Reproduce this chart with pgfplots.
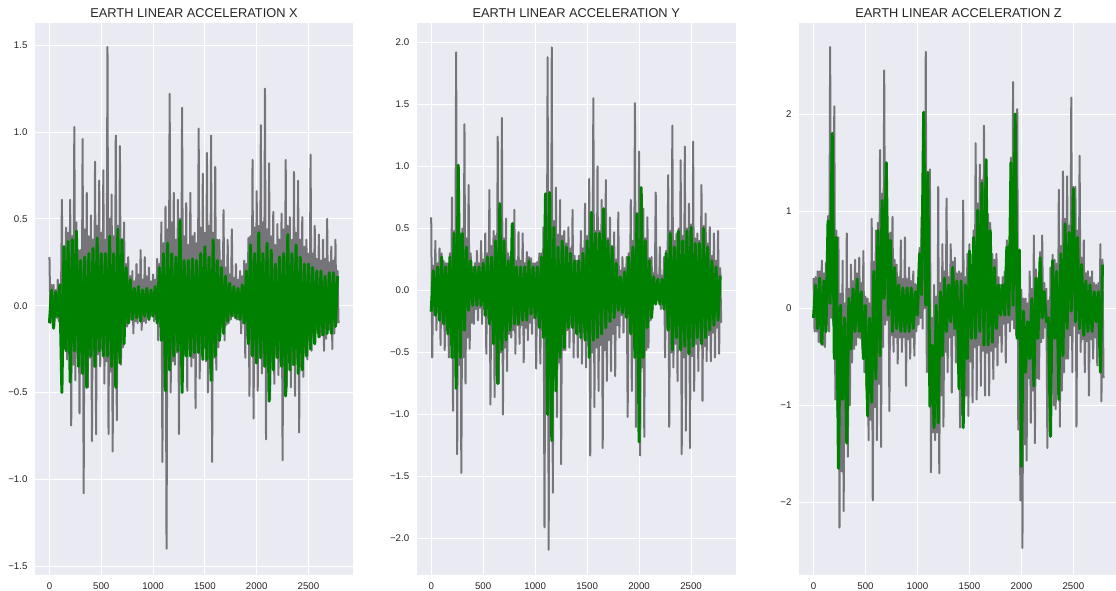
\documentclass[border=0pt]{standalone}
\usepackage{pgfplots}
\usepackage{pgfplotstable}
\pgfplotsset{compat=1.18}
\usepackage{fontspec}
\setmainfont{Liberation Sans}

\definecolor{sbbg}{RGB}{234,234,242}
\definecolor{sbtext}{RGB}{38,38,38}
\definecolor{rawgray}{RGB}{117,117,121}
\definecolor{filtgreen}{RGB}{0,128,0}

% raw = gray trace, filt = green trace (nan = no filtered sample at that row)
\pgfplotstableread[row sep=\\]{
x raw filt\\
0 0.28 -0.10\\ 10 -0.10 nan\\ 20 0.12 0.09\\ 30 -0.06 nan\\
40 0.12 -0.13\\ 50 -0.07 nan\\ 60 0.09 0.08\\ 70 -0.07 nan\\
80 0.15 -0.06\\ 90 -0.09 nan\\ 100 0.12 0.12\\ 110 -0.06 nan\\
120 0.61 -0.50\\ 130 -0.26 nan\\ 140 0.34 0.34\\ 150 -0.24 nan\\
160 0.45 -0.26\\ 170 -0.31 nan\\ 180 0.42 0.37\\ 190 -0.28 nan\\
200 0.61 -0.44\\ 210 -0.69 nan\\ 220 0.40 0.38\\ 230 -0.34 nan\\
240 1.03 -0.26\\ 250 -0.43 nan\\ 260 0.48 0.43\\ 270 -0.27 nan\\
280 0.32 -0.35\\ 290 -0.62 nan\\ 300 0.32 0.26\\ 310 -0.36 nan\\
320 0.96 -0.39\\ 330 -1.08 nan\\ 340 0.44 0.28\\ 350 -0.32 nan\\
360 0.65 -0.47\\ 370 -0.47 nan\\ 380 0.40 0.30\\ 390 -0.30 nan\\
400 0.52 -0.29\\ 410 -0.78 nan\\ 420 0.38 0.33\\ 430 -0.35 nan\\
440 0.83 -0.35\\ 450 -0.74 nan\\ 460 0.46 0.39\\ 470 -0.28 nan\\
480 0.72 -0.26\\ 490 -0.35 nan\\ 500 0.42 0.30\\ 510 -0.25 nan\\
520 0.78 -0.29\\ 530 -0.45 nan\\ 540 0.38 0.30\\ 550 -0.32 nan\\
560 1.49 -0.29\\ 570 -0.74 nan\\ 580 0.50 0.40\\ 590 -0.38 nan\\
600 0.64 -0.35\\ 610 -0.84 nan\\ 620 0.40 0.30\\ 630 -0.34 nan\\
640 0.98 -0.47\\ 650 -0.66 nan\\ 660 0.46 0.44\\ 670 -0.30 nan\\
680 0.92 -0.33\\ 690 -0.34 nan\\ 700 0.38 0.38\\ 710 -0.24 nan\\
720 0.48 -0.22\\ 730 -0.12 nan\\ 740 0.24 0.22\\ 750 -0.12 nan\\
760 0.28 -0.10\\ 770 -0.10 nan\\ 780 0.17 0.15\\ 790 -0.08 nan\\
800 0.20 -0.08\\ 810 -0.16 nan\\ 820 0.14 0.10\\ 830 -0.09 nan\\
840 0.24 -0.07\\ 850 -0.10 nan\\ 860 0.18 0.11\\ 870 -0.07 nan\\
880 0.32 -0.09\\ 890 -0.14 nan\\ 900 0.15 0.09\\ 910 -0.09 nan\\
920 0.28 -0.06\\ 930 -0.10 nan\\ 940 0.17 0.10\\ 950 -0.07 nan\\
960 0.22 -0.08\\ 970 -0.06 nan\\ 980 0.14 0.09\\ 990 -0.06 nan\\
1000 0.18 -0.06\\ 1010 -0.09 nan\\ 1020 0.15 0.11\\ 1030 -0.08 nan\\
1040 0.27 -0.10\\ 1050 -0.20 nan\\ 1060 0.24 0.22\\ 1070 -0.12 nan\\
1080 0.48 -0.20\\ 1090 -0.90 nan\\ 1100 0.36 0.30\\ 1110 -0.30 nan\\
1120 0.57 -0.49\\ 1130 -1.40 nan\\ 1140 0.44 0.36\\ 1150 -0.36 nan\\
1160 1.22 -0.37\\ 1170 -0.50 nan\\ 1180 0.48 0.30\\ 1190 -0.32 nan\\
1200 0.65 -0.29\\ 1210 -0.34 nan\\ 1220 0.38 0.28\\ 1230 -0.27 nan\\
1240 0.61 -0.26\\ 1250 -0.74 nan\\ 1260 0.50 0.49\\ 1270 -0.35 nan\\
1280 1.14 -0.50\\ 1290 -0.31 nan\\ 1300 0.40 0.26\\ 1310 -0.28 nan\\
1320 0.59 -0.29\\ 1330 -0.49 nan\\ 1340 0.35 0.26\\ 1350 -0.25 nan\\
1360 0.65 -0.29\\ 1370 -0.35 nan\\ 1380 0.40 0.27\\ 1390 -0.30 nan\\
1400 0.42 -0.27\\ 1410 -0.59 nan\\ 1420 0.36 0.26\\ 1430 -0.27 nan\\
1440 1.02 -0.27\\ 1450 -0.42 nan\\ 1460 0.45 0.30\\ 1470 -0.28 nan\\
1480 0.76 -0.31\\ 1490 -0.24 nan\\ 1500 0.42 0.34\\ 1510 -0.32 nan\\
1520 0.88 -0.31\\ 1530 -0.50 nan\\ 1540 0.46 0.28\\ 1550 -0.36 nan\\
1560 0.98 -0.43\\ 1570 -0.90 nan\\ 1580 0.42 0.38\\ 1590 -0.30 nan\\
1600 0.80 -0.29\\ 1610 -0.37 nan\\ 1620 0.38 0.26\\ 1630 -0.24 nan\\
1640 0.38 -0.20\\ 1650 -0.18 nan\\ 1660 0.26 0.22\\ 1670 -0.12 nan\\
1680 0.55 -0.16\\ 1690 -0.20 nan\\ 1700 0.22 0.17\\ 1710 -0.11 nan\\
1720 0.38 -0.09\\ 1730 -0.10 nan\\ 1740 0.18 0.13\\ 1750 -0.08 nan\\
1760 0.44 -0.06\\ 1770 -0.06 nan\\ 1780 0.16 0.11\\ 1790 -0.07 nan\\
1800 0.24 -0.07\\ 1810 -0.08 nan\\ 1820 0.15 0.10\\ 1830 -0.08 nan\\
1840 0.20 -0.08\\ 1850 -0.16 nan\\ 1860 0.17 0.12\\ 1870 -0.10 nan\\
1880 0.26 -0.10\\ 1890 -0.30 nan\\ 1900 0.24 0.20\\ 1910 -0.17 nan\\
1920 0.39 -0.22\\ 1930 -0.52 nan\\ 1940 0.40 0.35\\ 1950 -0.28 nan\\
1960 0.84 -0.29\\ 1970 -0.65 nan\\ 1980 0.45 0.30\\ 1990 -0.33 nan\\
2000 0.66 -0.33\\ 2010 -0.49 nan\\ 2020 0.46 0.42\\ 2030 -0.30 nan\\
2040 1.04 -0.30\\ 2050 -0.39 nan\\ 2060 0.48 0.30\\ 2070 -0.35 nan\\
2080 1.25 -0.35\\ 2090 -0.77 nan\\ 2100 0.44 0.36\\ 2110 -0.37 nan\\
2120 0.82 -0.55\\ 2130 -0.54 nan\\ 2140 0.40 0.32\\ 2150 -0.32 nan\\
2160 0.54 -0.37\\ 2170 -0.45 nan\\ 2180 0.35 0.24\\ 2190 -0.28 nan\\
2200 0.47 -0.30\\ 2210 -0.40 nan\\ 2220 0.38 0.28\\ 2230 -0.32 nan\\
2240 0.53 -0.35\\ 2250 -0.89 nan\\ 2260 0.44 0.30\\ 2270 -0.36 nan\\
2280 0.84 -0.52\\ 2290 -0.47 nan\\ 2300 0.46 0.41\\ 2310 -0.32 nan\\
2320 0.51 -0.37\\ 2330 -0.47 nan\\ 2340 0.38 0.30\\ 2350 -0.34 nan\\
2360 0.77 -0.34\\ 2370 -0.52 nan\\ 2380 0.42 0.35\\ 2390 -0.30 nan\\
2400 0.72 -0.39\\ 2410 -0.73 nan\\ 2420 0.38 0.28\\ 2430 -0.35 nan\\
2440 0.51 -0.37\\ 2450 -0.41 nan\\ 2460 0.34 0.24\\ 2470 -0.27 nan\\
2480 0.38 -0.29\\ 2490 -0.31 nan\\ 2500 0.30 0.24\\ 2510 -0.20 nan\\
2520 0.87 -0.25\\ 2530 -0.26 nan\\ 2540 0.30 0.22\\ 2550 -0.17 nan\\
2560 0.46 -0.22\\ 2570 -0.14 nan\\ 2580 0.27 0.20\\ 2590 -0.16 nan\\
2600 0.41 -0.18\\ 2610 -0.18 nan\\ 2620 0.26 0.20\\ 2630 -0.17 nan\\
2640 0.38 -0.17\\ 2650 -0.26 nan\\ 2660 0.27 0.17\\ 2670 -0.19 nan\\
2680 0.50 -0.16\\ 2690 -0.12 nan\\ 2700 0.25 0.19\\ 2710 -0.14 nan\\
2720 0.34 -0.16\\ 2730 -0.25 nan\\ 2740 0.26 0.19\\ 2750 -0.16 nan\\
2760 0.38 -0.12\\ 2770 -0.10 nan\\ 2780 0.20 0.17\\ 2790 -0.10 nan\\
}\accx

\pgfplotstableread[row sep=\\]{
x raw filt\\
0 0.59 -0.17\\ 10 -0.54 nan\\ 20 0.20 0.16\\ 30 -0.20 nan\\
40 0.40 -0.20\\ 50 -0.32 nan\\ 60 0.22 0.19\\ 70 -0.18 nan\\
80 0.34 -0.24\\ 90 -0.44 nan\\ 100 0.30 0.27\\ 110 -0.24 nan\\
120 0.24 -0.27\\ 130 -0.48 nan\\ 140 0.22 0.19\\ 150 -0.26 nan\\
160 0.22 -0.35\\ 170 -0.54 nan\\ 180 0.30 0.27\\ 190 -0.30 nan\\
200 0.75 -0.54\\ 210 -0.97 nan\\ 220 0.48 0.46\\ 230 -0.50 nan\\
240 1.92 -0.79\\ 250 -1.32 nan\\ 260 0.55 1.01\\ 270 -0.60 nan\\
280 0.46 -0.54\\ 290 -1.47 nan\\ 300 0.50 0.46\\ 310 -0.54 nan\\
320 1.34 -0.32\\ 330 -0.75 nan\\ 340 0.42 0.35\\ 350 -0.38 nan\\
360 0.85 -0.16\\ 370 -0.47 nan\\ 380 0.30 0.24\\ 390 -0.26 nan\\
400 0.19 -0.12\\ 410 -0.27 nan\\ 420 0.22 0.19\\ 430 -0.15 nan\\
440 0.32 -0.12\\ 450 -0.24 nan\\ 460 0.22 0.19\\ 470 -0.14 nan\\
480 0.40 -0.12\\ 490 -0.27 nan\\ 500 0.25 0.22\\ 510 -0.15 nan\\
520 0.46 -0.20\\ 530 -0.51 nan\\ 540 0.30 0.27\\ 550 -0.22 nan\\
560 0.81 -0.27\\ 570 -0.92 nan\\ 580 0.36 0.27\\ 590 -0.36 nan\\
600 0.48 -0.43\\ 610 -0.86 nan\\ 620 0.44 0.40\\ 630 -0.44 nan\\
640 1.24 -0.75\\ 650 -0.75 nan\\ 660 0.50 0.70\\ 670 -0.50 nan\\
680 1.39 -0.48\\ 690 -1.00 nan\\ 700 0.42 0.40\\ 710 -0.46 nan\\
720 0.58 -0.40\\ 730 -0.65 nan\\ 740 0.30 0.24\\ 750 -0.35 nan\\
760 0.27 -0.32\\ 770 -0.38 nan\\ 780 0.30 0.54\\ 790 -0.32 nan\\
800 0.65 -0.27\\ 810 -0.51 nan\\ 820 0.24 0.19\\ 830 -0.28 nan\\
840 0.47 -0.27\\ 850 -0.43 nan\\ 860 0.24 0.19\\ 870 -0.28 nan\\
880 0.46 -0.24\\ 890 -0.58 nan\\ 900 0.22 0.19\\ 910 -0.30 nan\\
920 0.31 -0.24\\ 930 -0.40 nan\\ 940 0.27 0.24\\ 950 -0.26 nan\\
960 0.26 -0.19\\ 970 -0.35 nan\\ 980 0.22 0.19\\ 990 -0.22 nan\\
1000 0.22 -0.22\\ 1010 -0.63 nan\\ 1020 0.23 0.19\\ 1030 -0.28 nan\\
1040 0.30 -0.30\\ 1050 -0.59 nan\\ 1060 0.30 0.27\\ 1070 -0.32 nan\\
1080 0.51 -0.38\\ 1090 -1.91 nan\\ 1100 0.62 0.78\\ 1110 -0.75 nan\\
1120 1.88 -1.00\\ 1130 -2.09 nan\\ 1140 0.65 0.79\\ 1150 -0.90 nan\\
1160 1.96 -1.21\\ 1170 -1.63 nan\\ 1180 0.56 0.51\\ 1190 -0.72 nan\\
1200 0.83 -0.81\\ 1210 -1.02 nan\\ 1220 0.45 0.35\\ 1230 -0.58 nan\\
1240 0.73 -0.54\\ 1250 -1.40 nan\\ 1260 0.44 0.40\\ 1270 -0.48 nan\\
1280 0.48 -0.46\\ 1290 -0.48 nan\\ 1300 0.38 0.35\\ 1310 -0.32 nan\\
1320 0.51 -0.30\\ 1330 -0.46 nan\\ 1340 0.34 0.30\\ 1350 -0.28 nan\\
1360 0.65 -0.30\\ 1370 -0.54 nan\\ 1380 0.28 0.24\\ 1390 -0.28 nan\\
1400 0.24 -0.35\\ 1410 -0.54 nan\\ 1420 0.28 0.24\\ 1430 -0.30 nan\\
1440 0.48 -0.38\\ 1450 -0.59 nan\\ 1460 0.34 0.30\\ 1470 -0.34 nan\\
1480 0.70 -0.40\\ 1490 -0.62 nan\\ 1500 0.44 0.40\\ 1510 -0.40 nan\\
1520 0.90 -0.54\\ 1530 -1.33 nan\\ 1540 0.52 0.63\\ 1550 -0.50 nan\\
1560 1.55 -0.40\\ 1570 -0.94 nan\\ 1580 0.48 0.46\\ 1590 -0.46 nan\\
1600 1.00 -0.38\\ 1610 -0.81 nan\\ 1620 0.48 0.46\\ 1630 -0.44 nan\\
1640 0.73 -0.35\\ 1650 -1.27 nan\\ 1660 0.50 0.66\\ 1670 -0.48 nan\\
1680 0.89 -0.30\\ 1690 -0.73 nan\\ 1700 0.42 0.40\\ 1710 -0.40 nan\\
1720 0.59 -0.25\\ 1730 -0.65 nan\\ 1740 0.36 0.35\\ 1750 -0.35 nan\\
1760 0.47 -0.22\\ 1770 -0.69 nan\\ 1780 0.25 0.22\\ 1790 -0.28 nan\\
1800 0.63 -0.16\\ 1810 -0.38 nan\\ 1820 0.16 0.11\\ 1830 -0.20 nan\\
1840 0.27 -0.18\\ 1850 -0.34 nan\\ 1860 0.18 0.15\\ 1870 -0.20 nan\\
1880 0.27 -0.22\\ 1890 -1.02 nan\\ 1900 0.30 0.27\\ 1910 -0.30 nan\\
1920 0.73 -0.35\\ 1930 -0.81 nan\\ 1940 0.40 0.35\\ 1950 -0.48 nan\\
1960 1.51 -0.54\\ 1970 -1.10 nan\\ 1980 0.52 0.62\\ 1990 -0.58 nan\\
2000 1.12 -1.22\\ 2010 -1.33 nan\\ 2020 0.58 0.83\\ 2030 -0.62 nan\\
2040 0.66 -0.54\\ 2050 -1.18 nan\\ 2060 0.42 0.40\\ 2070 -0.48 nan\\
2080 0.59 -0.30\\ 2090 -0.46 nan\\ 2100 0.26 0.24\\ 2110 -0.24 nan\\
2120 0.27 -0.22\\ 2130 -0.16 nan\\ 2140 0.14 0.11\\ 2150 -0.10 nan\\
2160 0.79 -0.11\\ 2170 -0.08 nan\\ 2180 0.12 0.09\\ 2190 -0.09 nan\\
2200 0.35 -0.11\\ 2210 -0.15 nan\\ 2220 0.12 0.09\\ 2230 -0.10 nan\\
2240 0.27 -0.15\\ 2250 -0.54 nan\\ 2260 0.32 0.30\\ 2270 -0.30 nan\\
2280 0.93 -0.32\\ 2290 -1.10 nan\\ 2300 0.48 0.46\\ 2310 -0.50 nan\\
2320 1.33 -0.48\\ 2330 -0.62 nan\\ 2340 0.40 0.35\\ 2350 -0.43 nan\\
2360 0.46 -0.38\\ 2370 -0.73 nan\\ 2380 0.50 0.48\\ 2390 -0.46 nan\\
2400 1.05 -0.48\\ 2410 -1.32 nan\\ 2420 0.44 0.40\\ 2430 -0.54 nan\\
2440 1.16 -0.45\\ 2450 -1.13 nan\\ 2460 0.50 0.48\\ 2470 -0.50 nan\\
2480 0.70 -0.51\\ 2490 -1.27 nan\\ 2500 0.53 0.51\\ 2510 -0.53 nan\\
2520 1.20 -0.45\\ 2530 -0.81 nan\\ 2540 0.42 0.38\\ 2550 -0.43 nan\\
2560 0.46 -0.38\\ 2570 -0.65 nan\\ 2580 0.40 0.38\\ 2590 -0.40 nan\\
2600 0.85 -0.43\\ 2610 -0.89 nan\\ 2620 0.52 0.50\\ 2630 -0.45 nan\\
2640 0.62 -0.38\\ 2650 -0.57 nan\\ 2660 0.38 0.35\\ 2670 -0.36 nan\\
2680 0.51 -0.32\\ 2690 -0.57 nan\\ 2700 0.28 0.24\\ 2710 -0.34 nan\\
2720 0.46 -0.28\\ 2730 -0.54 nan\\ 2740 0.24 0.19\\ 2750 -0.30 nan\\
2760 0.48 -0.24\\ 2770 -0.51 nan\\ 2780 0.18 0.12\\ 2790 -0.26 nan\\
}\accy

\pgfplotstableread[row sep=\\]{
x raw filt\\
0 0.31 -0.10\\ 10 -0.24 nan\\ 20 0.32 0.24\\ 30 -0.24 nan\\
40 0.38 -0.21\\ 50 -0.35 nan\\ 60 0.38 0.31\\ 70 -0.36 nan\\
80 0.49 -0.37\\ 90 -0.38 nan\\ 100 0.36 0.28\\ 110 -0.40 nan\\
120 0.47 -0.24\\ 130 -0.17 nan\\ 140 0.95 0.90\\ 150 -0.24 nan\\
160 2.69 0.05\\ 170 -0.10 nan\\ 180 1.60 1.80\\ 190 -0.15 nan\\
200 2.08 -0.52\\ 210 -0.94 nan\\ 220 0.80 0.73\\ 230 -1.05 nan\\
240 0.73 -1.65\\ 250 -2.26 nan\\ 260 0.15 0.03\\ 270 -1.68 nan\\
280 0.49 -0.94\\ 290 -2.09 nan\\ 300 0.05 -0.10\\ 310 -1.38 nan\\
320 0.77 -1.39\\ 330 -1.53 nan\\ 340 0.20 0.10\\ 350 -1.00 nan\\
360 0.45 -0.42\\ 370 -0.56 nan\\ 380 0.28 0.20\\ 390 -0.42 nan\\
400 0.50 -0.24\\ 410 -0.38 nan\\ 420 0.36 0.30\\ 430 -0.30 nan\\
440 0.52 -0.24\\ 450 -0.31 nan\\ 460 0.26 0.17\\ 470 -0.42 nan\\
480 0.59 -0.52\\ 490 -0.66 nan\\ 500 0.12 0.03\\ 510 -0.85 nan\\
520 0.10 -1.11\\ 530 -1.36 nan\\ 540 0.05 -0.10\\ 550 -1.15 nan\\
560 0.92 -0.97\\ 570 -1.98 nan\\ 580 0.48 0.38\\ 590 -1.02 nan\\
600 0.80 -0.73\\ 610 -1.36 nan\\ 620 0.88 0.80\\ 630 -0.78 nan\\
640 1.63 -0.49\\ 650 -1.43 nan\\ 660 1.18 1.11\\ 670 -0.40 nan\\
680 2.45 0.10\\ 690 -0.17 nan\\ 700 1.40 1.50\\ 710 -0.12 nan\\
720 0.77 -0.07\\ 730 -1.06 nan\\ 740 0.78 0.70\\ 750 -0.28 nan\\
760 0.94 -0.24\\ 770 -0.45 nan\\ 780 0.50 0.42\\ 790 -0.30 nan\\
800 0.45 -0.21\\ 810 -0.57 nan\\ 820 0.32 0.24\\ 830 -0.30 nan\\
840 0.70 -0.24\\ 850 -0.45 nan\\ 860 0.30 0.21\\ 870 -0.30 nan\\
880 0.73 -0.24\\ 890 -0.80 nan\\ 900 0.30 0.21\\ 910 -0.32 nan\\
920 0.42 -0.24\\ 930 -0.52 nan\\ 940 0.28 0.21\\ 950 -0.30 nan\\
960 0.38 -0.21\\ 970 -0.49 nan\\ 980 0.25 0.17\\ 990 -0.24 nan\\
1000 0.24 -0.07\\ 1010 -0.17 nan\\ 1020 0.62 0.56\\ 1030 -0.10 nan\\
1040 0.94 0.14\\ 1050 -0.21 nan\\ 1060 1.80 2.02\\ 1070 0.00 nan\\
1080 2.64 0.03\\ 1090 -0.66 nan\\ 1100 1.20 1.40\\ 1110 -0.50 nan\\
1120 1.43 -1.01\\ 1130 -1.69 nan\\ 1140 -0.10 -0.38\\ 1150 -1.28 nan\\
1160 0.24 -1.23\\ 1170 -1.36 nan\\ 1180 0.12 0.03\\ 1190 -1.28 nan\\
1200 1.25 -1.18\\ 1210 -1.70 nan\\ 1220 0.26 0.17\\ 1230 -0.90 nan\\
1240 0.66 -0.49\\ 1250 -1.22 nan\\ 1260 0.38 0.31\\ 1270 -0.45 nan\\
1280 1.13 -0.24\\ 1290 -0.66 nan\\ 1300 0.32 0.24\\ 1310 -0.30 nan\\
1320 0.66 -0.14\\ 1330 -0.87 nan\\ 1340 0.48 0.42\\ 1350 -0.28 nan\\
1360 0.52 -0.21\\ 1370 -0.56 nan\\ 1380 0.36 0.28\\ 1390 -0.60 nan\\
1400 0.38 -0.83\\ 1410 -1.23 nan\\ 1420 0.36 0.28\\ 1430 -1.10 nan\\
1440 1.11 -1.23\\ 1450 -0.94 nan\\ 1460 0.32 0.24\\ 1470 -0.90 nan\\
1480 0.56 -0.52\\ 1490 -1.11 nan\\ 1500 0.66 0.59\\ 1510 -0.55 nan\\
1520 0.45 -0.31\\ 1530 -0.97 nan\\ 1540 0.80 0.73\\ 1550 -0.40 nan\\
1560 1.70 -0.31\\ 1570 -0.94 nan\\ 1580 1.08 1.01\\ 1590 -0.38 nan\\
1600 1.48 -0.24\\ 1610 -0.80 nan\\ 1620 1.32 1.29\\ 1630 -0.44 nan\\
1640 1.88 -0.38\\ 1650 -0.90 nan\\ 1660 1.45 1.53\\ 1670 -0.46 nan\\
1680 0.97 -0.38\\ 1690 -0.90 nan\\ 1700 0.88 0.80\\ 1710 -0.44 nan\\
1720 0.56 -0.35\\ 1730 -0.73 nan\\ 1740 0.50 0.42\\ 1750 -0.40 nan\\
1760 0.56 -0.21\\ 1770 -0.59 nan\\ 1780 0.32 0.24\\ 1790 -0.28 nan\\
1800 0.24 -0.07\\ 1810 -0.45 nan\\ 1820 0.32 0.24\\ 1830 -0.16 nan\\
1840 0.38 -0.07\\ 1850 -0.56 nan\\ 1860 0.70 0.63\\ 1870 -0.15 nan\\
1880 0.66 -0.07\\ 1890 -0.24 nan\\ 1900 1.55 1.50\\ 1910 -0.12 nan\\
1920 2.33 0.03\\ 1930 -0.21 nan\\ 1940 1.85 2.00\\ 1950 -0.28 nan\\
1960 2.05 -0.31\\ 1970 -1.25 nan\\ 1980 0.50 0.60\\ 1990 -1.98 nan\\
2000 0.19 -1.63\\ 2010 -2.47 nan\\ 2020 0.10 -0.03\\ 2030 -1.40 nan\\
2040 0.10 -0.66\\ 2050 -1.57 nan\\ 2060 0.05 -0.14\\ 2070 -0.72 nan\\
2080 0.38 -0.52\\ 2090 -1.18 nan\\ 2100 0.20 0.10\\ 2110 -0.85 nan\\
2120 0.75 -0.80\\ 2130 -1.39 nan\\ 2140 0.40 0.31\\ 2150 -0.72 nan\\
2160 0.31 -0.31\\ 2170 -0.73 nan\\ 2180 0.58 0.52\\ 2190 -0.35 nan\\
2200 0.75 -0.10\\ 2210 -0.31 nan\\ 2220 0.26 0.17\\ 2230 -0.20 nan\\
2240 0.20 -0.14\\ 2250 -1.44 nan\\ 2260 0.08 -0.10\\ 2270 -0.80 nan\\
2280 0.42 -1.32\\ 2290 -0.66 nan\\ 2300 0.55 0.49\\ 2310 -1.00 nan\\
2320 0.50 -0.31\\ 2330 -1.04 nan\\ 2340 0.46 0.38\\ 2350 -0.75 nan\\
2360 1.22 -0.94\\ 2370 -1.22 nan\\ 2380 0.64 0.56\\ 2390 -0.85 nan\\
2400 1.41 -0.49\\ 2410 -0.66 nan\\ 2420 0.92 0.87\\ 2430 -0.52 nan\\
2440 1.36 -0.21\\ 2450 -0.52 nan\\ 2460 0.85 0.78\\ 2470 -0.28 nan\\
2480 2.17 -0.03\\ 2490 -0.66 nan\\ 2500 1.25 1.23\\ 2510 -0.18 nan\\
2520 1.25 -0.14\\ 2530 -1.22 nan\\ 2540 0.80 0.73\\ 2550 -0.26 nan\\
2560 1.57 -0.21\\ 2570 -0.45 nan\\ 2580 0.52 0.45\\ 2590 -0.32 nan\\
2600 0.70 -0.28\\ 2610 -0.66 nan\\ 2620 0.36 0.28\\ 2630 -0.34 nan\\
2640 0.38 -0.24\\ 2650 -0.90 nan\\ 2660 0.32 0.24\\ 2670 -0.32 nan\\
2680 0.38 -0.24\\ 2690 -0.52 nan\\ 2700 0.26 0.17\\ 2710 -0.30 nan\\
2720 0.24 -0.14\\ 2730 -0.59 nan\\ 2740 0.26 0.17\\ 2750 -0.40 nan\\
2760 0.66 -0.66\\ 2770 -0.96 nan\\ 2780 0.50 0.45\\ 2790 -0.72 nan\\
}\accz

\pgfplotsset{sbpanel/.style={
  scale only axis, width=318pt, height=552pt, anchor=south west,
  axis background/.style={fill=sbbg},
  axis line style={draw=none},
  tick style={draw=none},
  grid=major, major grid style={white, line width=1pt},
  xmin=-139.5, xmax=2929.5,
  xtick={0,500,1000,1500,2000,2500},
  xticklabels={0,500,1000,1500,2000,2500},
  tick label style={font=\fontsize{9.7}{11}\selectfont, color=sbtext},
  xticklabel style={yshift=-4pt},
  yticklabel style={xshift=-4pt},
  title style={at={(0.5,1)}, anchor=base, yshift=-0.5pt,
    font=\fontsize{12.8}{14}\selectfont, color=sbtext},
  every axis plot/.append style={line join=round},
  unbounded coords=discard,
}}

\begin{document}
\begin{tikzpicture}
\useasboundingbox (0,0) rectangle (1116pt,591pt);

\begin{axis}[sbpanel, at={(35pt,16pt)},
  ymin=-1.551, ymax=1.628,
  ytick={-1.5,-1,-0.5,0,0.5,1,1.5},
  yticklabels={−1.5,−1.0,−0.5,0.0,0.5,1.0,1.5},
  title={EARTH LINEAR ACCELERATION X}]
\addplot[rawgray, line width=2pt] table[x=x, y=raw] {\accx};
\addplot[filtgreen, line width=3pt] table[x=x, y=filt] {\accx};
\end{axis}

\begin{axis}[sbpanel, at={(416.7pt,16pt)}, width=319pt,
  ymin=-2.293, ymax=2.156,
  ytick={-2,-1.5,-1,-0.5,0,0.5,1,1.5,2},
  yticklabels={−2.0,−1.5,−1.0,−0.5,0.0,0.5,1.0,1.5,2.0},
  title={EARTH LINEAR ACCELERATION Y}]
\addplot[rawgray, line width=2pt] table[x=x, y=raw] {\accy};
\addplot[filtgreen, line width=3pt] table[x=x, y=filt] {\accy};
\end{axis}

\begin{axis}[sbpanel, at={(799pt,16pt)}, width=319pt,
  ymin=-2.748, ymax=2.938,
  ytick={-2,-1,0,1,2},
  yticklabels={−2,−1,0,1,2},
  title={EARTH LINEAR ACCELERATION Z}]
\addplot[rawgray, line width=2pt] table[x=x, y=raw] {\accz};
\addplot[filtgreen, line width=3pt] table[x=x, y=filt] {\accz};
\end{axis}
\end{tikzpicture}
\end{document}
